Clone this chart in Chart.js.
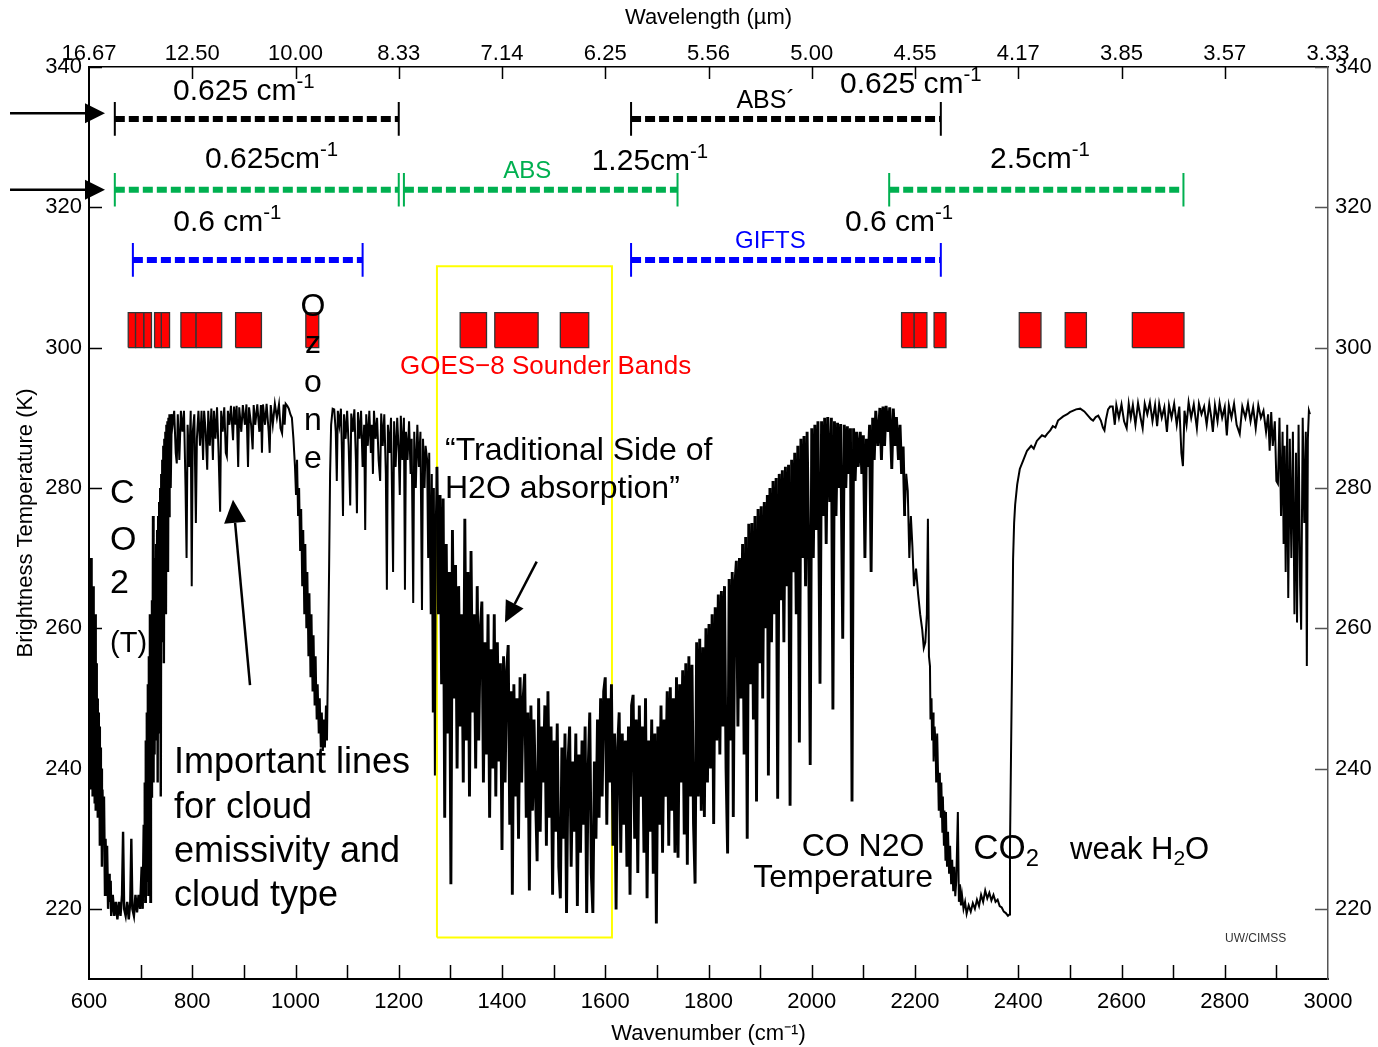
<!DOCTYPE html>
<html>
<head>
<meta charset="utf-8">
<script src="https://cdn.jsdelivr.net/npm/chart.js@4.4.1/dist/chart.umd.min.js"></script>
<style>
  html, body { margin: 0; padding: 0; background: #fff; }
  #wrap { width: 1378px; height: 1047px; }
</style>
</head>
<body>
<div id="wrap"><canvas id="spectrumChart" width="1378" height="1047"></canvas></div>
<script>
// axis ticks
const wavenumberTicks = [600, 800, 1000, 1200, 1400, 1600, 1800, 2000, 2200, 2400, 2600, 2800, 3000];
const wavelengthLabels = ['16.67', '12.50', '10.00', '8.33', '7.14', '6.25', '5.56', '5.00', '4.55', '4.17', '3.85', '3.57', '3.33'];
const temperatureTicks = [220, 240, 260, 280, 300, 320, 340];

// brightness temperature spectrum, [wavenumber, K], read region by region
const co2BandLw = [[600,266],[601,240],[602,268],[603,237],[604,270],[605,242],[606,262],[607,236],[608,266],[609,238],[610,258],[611,235],[612,262],[613,234],[614,255],[615,237],[616,250],[617,233],[618,248],[619,236],[620,246],[621,229],[622,243],[623,232],[624,240],[625,226],[626,237],[628,230],[629,236],[631,222],[632,230],[634,224],[635,229],[637,220],[639,225],[640,221],[642,224],[643,219],[646,222],[649,219],[652,221],[655,218.5],[658,221],[661,219],[664,222],[666,231],[668,220],[671,219],[674,221],[677,218.5],[680,221],[682,230],[684,220],[687,219],[690,222],[693,219.5],[696,222],[699,220],[702,226],[704,220],[706,232],[707,222],[708,238],[709,221],[710,244],[711,224],[712,248],[713,226],[714,252],[715,222],[716,256],[717,228],[718,262],[719,221],[720,260],[721,236],[722,264],[723,240],[724,276],[725,238],[726,268],[727,242],[728,270],[729,246],[730,272],[731,244],[732,274],[733,238],[734,276],[735,250],[736,278],[737,245],[738,280],[739,236],[740,282],[741,258],[742,284],[743,262],[744,286],[745,255],[746,287],[747,266],[748,288],[749,262],[750,289],[751,272],[752,289.5],[753,268],[754,290],[755,276],[756,290.5],[758,280],[760,290.5]];
const windowLw = [[762,289],[765,291],[768,285],[770,283.5],[772,290.5],[775,284],[778,291],[781,288],[784,291],[787,280],[789,270],[791,289],[794,283],[797,291],[799,266],[801,288],[804,290.5],[807,275],[809,287],[812,291],[815,286],[818,291],[821,284],[823,291],[826,288],[829,282.6],[831,291],[834,286],[837,291.3],[840,284],[842,291],[845,287],[848,291.5],[851,285],[854,276.6],[856,291],[859,288],[862,291.5],[865,285],[867,284.5],[869,291],[872,289],[875,291.7],[879,286.8],[881,291.6],[884,289],[886,291.7],[889,283],[891,291.5],[895,288],[898,291.8],[902,289],[905,291.9],[908,283],[910,291.5],[914,289],[917,285.5],[919,291.8],[922,289],[926,291.9],[930,288],[933,291.8],[935,285],[937,291.9],[941,289],[944,292],[948,288],[950,285],[952,291.8],[956,289],[960,292],[964,290],[968,291.9],[971,288.5],[974,287.8],[977,291.9],[979,289],[981,292],[984,291.7],[987,291.3],[990,290.5]];
const ozoneBand = [[993,290],[996,287],[999,283],[1001,279],[1003,284],[1005,276],[1007,280],[1009,271],[1011,277],[1013,266],[1015,274],[1017,262],[1019,272],[1021,260],[1023,268],[1025,256],[1027,265],[1029,253],[1031,262],[1033,251],[1035,259],[1037,249],[1039,256],[1041,247],[1043,252],[1045,245],[1047,250],[1049,243],[1051,248],[1053,242.5],[1055,247],[1057,243],[1059,249],[1061,244],[1063,256],[1065,268],[1067,282],[1069,289],[1072,291.3]];
const windowMid = [[1075,291.2],[1078,288],[1080,281],[1082,291],[1085,289],[1088,291.3],[1090,285],[1092,276],[1094,290.5],[1097,287],[1100,291],[1103,286],[1106,277.5],[1108,290.6],[1111,288],[1114,291.2],[1117,284],[1119,276.4],[1121,290.8],[1124,287],[1127,291],[1130,283],[1133,289],[1135,274],[1137,290.5],[1140,286],[1143,291],[1146,285],[1148,289],[1150,282],[1152,291],[1155,287],[1158,290],[1161,284],[1164,281],[1166,290.6],[1169,286],[1172,290.5],[1175,282],[1177,265.5],[1179,289],[1182,285],[1185,290],[1189,268],[1191,289.5],[1194,283],[1197,290],[1200,285],[1202,279],[1204,290.3],[1207,284],[1210,290],[1212,265.5],[1214,288],[1217,284],[1220,289.5],[1223,282],[1225,287],[1228,263.6],[1230,288],[1233,280],[1236,289],[1239,283],[1242,288],[1245,262.6],[1247,287],[1250,280],[1252,286],[1255,284],[1257,270],[1259,285],[1262,262],[1264,282],[1266,248],[1268,280],[1270,239],[1272,276]];
const waterBand = [[1274,283],[1277,262],[1280,279],[1283,252],[1286,278.5],[1289,233],[1292,272],[1295,245],[1298,268],[1301,223.5],[1304,274],[1307,250],[1310,269],[1313,240],[1316,266],[1319,246],[1322,262],[1325,238],[1328,275.6],[1331,244],[1334,268],[1337,236],[1340,271],[1343,248],[1346,262],[1349,240],[1352,266],[1355,244],[1358,260],[1361,263.8],[1364,238],[1367,258],[1370,242],[1373,262],[1376,233],[1379,257],[1382,240],[1385,262],[1388,236],[1391,258],[1394,241],[1397,255],[1400,228.4],[1403,256],[1406,238],[1409,254],[1412,257.6],[1415,232],[1418,251],[1420,222],[1423,252],[1426,236],[1429,250],[1432,230],[1435,253],[1438,238],[1441,250],[1444,253.5],[1447,233],[1450,248],[1453,222.6],[1456,249],[1459,234],[1462,247],[1465,236],[1468,226.8],[1471,250],[1474,231],[1477,246],[1480,238],[1483,249],[1486,229],[1489,251],[1492,233],[1495,246],[1498,222],[1501,244],[1504,231],[1507,246.4],[1510,226],[1513,221.5],[1516,243],[1519,230],[1522,245],[1525,219.4],[1528,241],[1531,246],[1534,226],[1537,241],[1540,231],[1543,245],[1546,220.4],[1549,242],[1552,228],[1555,244],[1558,232],[1561,246],[1564,219.4],[1567,240],[1570,248],[1573,225],[1576,219.4],[1579,241],[1582,230],[1585,247],[1588,233],[1591,250],[1594,236],[1597,251],[1600,253],[1603,232],[1606,250],[1609,238],[1612,252],[1615,229],[1618,245],[1621,219.9],[1624,243],[1627,248],[1630,228],[1633,245],[1636,232],[1639,244],[1642,226],[1645,246],[1648,222],[1651,249]];
const waterWing = [[1654,250.5],[1657,230],[1660,247],[1663,225.1],[1666,249],[1669,236],[1672,246],[1675,228],[1678,250],[1681,221.5],[1684,244],[1687,231],[1690,247],[1693,225],[1696,245],[1699,217.9],[1702,246],[1705,232],[1708,249],[1711,228],[1714,247],[1717,236],[1720,251],[1723,229],[1726,251.6],[1729,234],[1732,250],[1735,228],[1738,253],[1741,227.3],[1744,252],[1747,238],[1750,254],[1753,230.6],[1756,255],[1759,226.3],[1762,256],[1765,236],[1768,254.8],[1771,232.1],[1774,223.6],[1777,258],[1780,236],[1783,258.5],[1786,234],[1789,257.3],[1792,233.1],[1795,260],[1798,238],[1801,260.6],[1804,240],[1807,262],[1810,232.1],[1813,263],[1816,244],[1819,264.8],[1822,242],[1825,265.3]];
const shortwaveRise = [[1828,246],[1831,266],[1834,240],[1837,227.9],[1840,267],[1843,244],[1846,268],[1848,233.1],[1851,266],[1854,269.6],[1857,246],[1860,270],[1863,250],[1866,272],[1869,242],[1872,273],[1875,230],[1878,274.9],[1881,252],[1884,275],[1887,247],[1890,276],[1893,235.3],[1896,277],[1899,255],[1902,277.4],[1905,250],[1908,278],[1911,260],[1914,279],[1916,239],[1919,280],[1922,258],[1925,281],[1928,262],[1931,281.4],[1934,235.7],[1937,282],[1940,264],[1943,282.5],[1946,258],[1949,283],[1952,266],[1955,283.3],[1958,234.7],[1961,284],[1964,268],[1967,285],[1970,262],[1973,286],[1976,243.7],[1979,287],[1982,270],[1985,287.4],[1988,266],[1991,288],[1994,272],[1997,240.5],[2000,288.5],[2003,270],[2006,289],[2009,274],[2012,289.5],[2016,252.1],[2019,289.5],[2022,276],[2025,290],[2028,272],[2031,290.1],[2035,278],[2038,290],[2041,248.4],[2044,289.5],[2047,276],[2050,289.3],[2053,280],[2056,289.1],[2060,258.5],[2063,289],[2066,280],[2069,288.8],[2072,282],[2075,288.5],[2078,235.3],[2081,288.5],[2084,281],[2087,288],[2090,283],[2094,288],[2097,282],[2100,287.5],[2103,270],[2106,287],[2109,283],[2112,289],[2115,268],[2118,290],[2121,284],[2124,291],[2128,286],[2132,291.4],[2135,284],[2138,291.6],[2141,286],[2144,291.7],[2148,288],[2151,291.5],[2155,282.7],[2158,291.3],[2161,286],[2164,290.1],[2168,284],[2171,289],[2174,282],[2177,285.9],[2180,276]];
const co2BandSw = [[2183,282],[2186,279.6],[2189,270],[2192,276],[2195,271.6],[2198,266],[2202,268.5],[2206,264.9],[2210,262],[2214,259.8],[2217,257.2],[2220,258],[2223,262],[2225,275.6],[2227,256],[2229,254.6],[2230,247],[2232,250],[2233,244],[2235,248],[2236,241],[2238,246],[2240,243],[2241,238],[2243,245],[2245,238],[2246,234],[2248,239.4],[2250,233],[2251,238],[2253,231],[2254,236],[2256,229],[2257,234],[2259,227],[2260,233.8],[2262,226],[2264,231],[2266,225],[2268,229],[2270,223.5],[2272,227],[2274,222.5],[2276,226],[2278,221.8],[2280,224],[2283,233.8],[2285,221],[2287,223.5],[2289,220.5],[2291,222],[2294,220],[2297,221],[2300,219.3],[2304,220.5],[2308,219.6],[2312,220.8],[2316,220],[2320,221.3],[2324,220.4],[2328,222],[2332,221],[2336,222.6],[2340,221.5],[2344,222.3],[2348,221.2],[2352,222],[2356,221],[2360,221.3],[2364,220.4],[2368,220.2],[2372,219.6],[2376,219.4],[2380,219],[2383,219.2],[2384,229],[2386,242],[2388,254.6],[2390,269.9],[2392,275],[2394,277.6]];
const windowSw = [[2398,280.5],[2403,282.7],[2410,284],[2417,285.3],[2425,286],[2430,285.6],[2436,286.7],[2446,287.5],[2452,287.3],[2456,287.7],[2462,288.2],[2467,288.8],[2472,288.6],[2477,289.6],[2487,290.2],[2495,290.5],[2500,290.8],[2512,291.2],[2520,291.3],[2528,290.9],[2535,290.3],[2541,289.8],[2545,289.6],[2550,290.1],[2555,290.3],[2560,289.6],[2564,288.6],[2567,288.2],[2570,289.8],[2574,291.2],[2578,291.6],[2583,291.6],[2587,289],[2590,291.8],[2595,290],[2600,291.9],[2605,289.5],[2610,288.5],[2614,292],[2618,290],[2622,291.8],[2627,289],[2632,292.1],[2637,290],[2641,288.5],[2645,292],[2650,290.5],[2655,292.2],[2660,289.5],[2665,291.8],[2669,288.8],[2673,292],[2678,290],[2683,291.5],[2688,288],[2692,291.8],[2697,290],[2702,292],[2707,289],[2712,291.6],[2716,285],[2719,283.1],[2722,291],[2726,289],[2730,292.2],[2735,290],[2740,291.9],[2746,288.5],[2750,292],[2755,290.5],[2760,291.6],[2765,289],[2770,292],[2774,290],[2777,288],[2781,291.8],[2786,289.5],[2790,292.1],[2795,290],[2800,291.5],[2804,287.5],[2808,291.8],[2813,290],[2818,292],[2823,289],[2829,287.7],[2834,291.6],[2840,290],[2845,292],[2850,289.5],[2855,291.5],[2860,288.5],[2865,291.8],[2870,290],[2875,291],[2880,288],[2884,290.5],[2887,285.3],[2890,290.8],[2893,286],[2897,289.5],[2900,281],[2903,280.6],[2906,290],[2909,276],[2912,288],[2914,272],[2916,286],[2918,268],[2921,289],[2923,264.3],[2926,287],[2929,270],[2932,288],[2935,262],[2938,285],[2940,260.8],[2943,289],[2946,266],[2948,259.8],[2951,290],[2954,275],[2957,288],[2959,254.6],[2961,287],[2963,291],[2965,290.5]];

// GOES-8 sounder bands (cm-1)
const goesBandStart = [676, 690, 706, 727, 740, 778, 807, 884, 1020, 1319, 1386, 1513, 2174, 2198, 2237, 2402, 2491, 2621];
const goesBandEnd   = [690, 706, 721, 740, 756, 807, 857, 934, 1045, 1370, 1470, 1568, 2198, 2223, 2260, 2444, 2532, 2721];

// spectral coverage of the instruments (cm-1)
const absPrimeSpans = [[650, 1200], [1650, 2250]];
const absSpans = [[650, 1200], [1210, 1740], [2150, 2720]];
const giftsSpans = [[685, 1130], [1650, 2250]];

const FONT = "'Liberation Sans', Arial, sans-serif";
Chart.defaults.font.family = FONT;
Chart.defaults.color = '#000';

const toPts = pairs => pairs.map(p => ({ x: p[0], y: p[1] }));
const spectrum = [].concat(co2BandLw, windowLw, ozoneBand, windowMid, waterBand, waterWing, shortwaveRise, co2BandSw, windowSw);

const datasets = [];
datasets.push({
    data: toPts(spectrum),
    borderColor: '#000',
    borderWidth: 2,
    pointRadius: 0,
    tension: 0,
    fill: false,
    // the dense water-vapour forest is drawn heavier so it reads as solid
    segment: {
        borderWidth: ctx => {
            const wn = ctx.p0.parsed.x;
            if (wn > 1272 && wn < 2180) return 2.9;
            if (wn < 760) return 2.4;
            return 2;
        }
    }
});

// yellow box round the water band
datasets.push({
    data: [{x: 1274, y: 215.9}, {x: 1613, y: 215.9}, {x: 1613, y: 311.6}, {x: 1274, y: 311.6}, {x: 1274, y: 215.9}],
    borderColor: '#ffff00',
    borderWidth: 2,
    pointRadius: 0,
    fill: false
});

goesBandStart.forEach((s, i) => {
    const e = goesBandEnd[i];
    datasets.push({
        data: [{x: s, y: 300}, {x: s, y: 305}, {x: e, y: 305}, {x: e, y: 300}, {x: s, y: 300}],
        borderColor: '#333',
        borderWidth: 1.3,
        pointRadius: 0,
        fill: false
    });
    datasets.push({
        data: [{x: s, y: 305}, {x: e, y: 305}],
        borderWidth: 0,
        borderColor: 'rgba(0,0,0,0)',
        backgroundColor: '#ff0000',
        pointRadius: 0,
        fill: {value: 300}
    });
});

function addSpans(spans, level, color) {
    spans.forEach(([s, e]) => {
        datasets.push({
            data: [{x: s, y: level}, {x: e, y: level}],
            borderColor: color,
            borderWidth: 6,
            borderDash: [10, 4],
            borderCapStyle: 'butt',
            pointRadius: 0,
            fill: false
        });
        datasets.push({
            data: [{x: s, y: level - 2.4}, {x: s, y: level + 2.4}, {x: s, y: null}, {x: e, y: level - 2.4}, {x: e, y: level + 2.4}],
            borderColor: color,
            borderWidth: 2,
            pointRadius: 0,
            spanGaps: false,
            fill: false
        });
    });
}
addSpans(absPrimeSpans, 332.6, '#000');
addSpans(absSpans, 322.5, '#00b050');
addSpans(giftsSpans, 312.5, '#0000ff');

// text labels: [wavenumber, K, size, colour, parts, align]
const notes = [
    [762.7, 335.3, 30, '#000', [['0.625 cm'], ['-1', 'sup']]],
    [1854, 334.2, 25, '#000', [['ABS\u00b4']]],
    [2054.7, 336.3, 30, '#000', [['0.625 cm'], ['-1', 'sup']]],
    [824.7, 325.6, 30, '#000', [['0.625cm'], ['-1', 'sup']]],
    [1402.6, 324.2, 24, '#00b050', [['ABS']]],
    [1573.7, 325.3, 30, '#000', [['1.25cm'], ['-1', 'sup']]],
    [2345.2, 325.6, 30, '#000', [['2.5cm'], ['-1', 'sup']]],
    [763.3, 316.6, 30, '#000', [['0.6 cm'], ['-1', 'sup']]],
    [1851.3, 314.2, 24, '#0000ff', [['GIFTS']]],
    [2064.4, 316.6, 30, '#000', [['0.6 cm'], ['-1', 'sup']]],
    [1033.9, 304.5, 32, '#000', [['O']], 'center'],
    [1033.9, 299.3, 32, '#000', [['z']], 'center'],
    [1033.9, 293.7, 32, '#000', [['o']], 'center'],
    [1033.9, 288.3, 32, '#000', [['n']], 'center'],
    [1033.9, 282.9, 32, '#000', [['e']], 'center'],
    [1202.4, 296.2, 26, '#ff0000', [['GOES\u22128 Sounder Bands']]],
    [640.7, 277.9, 34, '#000', [['C']]],
    [640.7, 271.2, 34, '#000', [['O']]],
    [640.7, 265.0, 34, '#000', [['2']]],
    [640.7, 256.6, 29, '#000', [['(T)']]],
    [764.6, 239.4, 36, '#000', [['Important lines']]],
    [764.6, 233.0, 36, '#000', [['for cloud']]],
    [764.6, 226.7, 36, '#000', [['emissivity and']]],
    [764.6, 220.4, 36, '#000', [['cloud type']]],
    [1289.6, 284.0, 32, '#000', [['\u201cTraditional Side of']]],
    [1289.6, 278.6, 32, '#000', [['H2O absorption\u201d']]],
    [1980.4, 227.6, 32, '#000', [['CO N2O']]],
    [1886.8, 223.1, 32, '#000', [['Temperature']]],
    [2313, 227.1, 35, '#000', [['CO'], ['2', 'sub']]],
    [2500.3, 227.1, 31, '#000', [['weak H'], ['2', 'sub'], ['O']]],
    [2800.5, 215.3, 12, '#333', [['UW/CIMSS']]]
];

// arrows: [tail wavenumber, tail K, tip wavenumber, tip K, head length, head half-width]
const arrows = [
    [447, 333.4, 631, 333.4, 20, 10],
    [447, 322.5, 631, 322.5, 20, 10],
    [911.9, 251.9, 878.9, 278.3, 23, 11],
    [1467.2, 269.5, 1405.8, 260.8, 21, 10]
];

const annotate = {
    id: 'annotate',
    afterDatasetsDraw(chart) {
        const { ctx, scales: { x, y } } = chart;
        ctx.save();
        notes.forEach(([wn, bt, size, color, parts, align]) => {
            let px = x.getPixelForValue(wn);
            const py = y.getPixelForValue(bt);
            ctx.fillStyle = color;
            ctx.textBaseline = 'alphabetic';
            ctx.textAlign = 'left';
            let total = 0;
            parts.forEach(p => {
                ctx.font = (p[1] ? size * 0.68 : size) + 'px ' + FONT;
                total += ctx.measureText(p[0]).width;
            });
            if (align === 'center') px -= total / 2;
            parts.forEach(p => {
                const fs = p[1] ? size * 0.68 : size;
                ctx.font = fs + 'px ' + FONT;
                const dy = p[1] === 'sup' ? -size * 0.4 : p[1] === 'sub' ? size * 0.2 : 0;
                ctx.fillText(p[0], px, py + dy);
                px += ctx.measureText(p[0]).width;
            });
        });
        ctx.strokeStyle = '#000';
        ctx.fillStyle = '#000';
        ctx.lineWidth = 2.5;
        arrows.forEach(([x0, y0, x1, y1, hl, hw]) => {
            const ax = x.getPixelForValue(x0), ay = y.getPixelForValue(y0);
            const bx = x.getPixelForValue(x1), by = y.getPixelForValue(y1);
            const ang = Math.atan2(by - ay, bx - ax);
            const cx = bx - hl * Math.cos(ang), cy = by - hl * Math.sin(ang);
            ctx.beginPath();
            ctx.moveTo(ax, ay);
            ctx.lineTo(cx, cy);
            ctx.stroke();
            ctx.beginPath();
            ctx.moveTo(bx, by);
            ctx.lineTo(cx + hw * Math.sin(ang), cy - hw * Math.cos(ang));
            ctx.lineTo(cx - hw * Math.sin(ang), cy + hw * Math.cos(ang));
            ctx.closePath();
            ctx.fill();
        });
        ctx.restore();
    }
};

// tick marks drawn inward from all four sides
const inwardTicks = {
    id: 'inwardTicks',
    afterDraw(chart) {
        const { ctx, chartArea: a, scales } = chart;
        ctx.save();
        ctx.lineWidth = 1.5;
        ctx.strokeStyle = '#000';
        ctx.beginPath();
        for (let v = scales.x.min + 100; v < scales.x.max; v += 100) {
            const px = Math.round(scales.x.getPixelForValue(v)) + 0.5;
            ctx.moveTo(px, a.bottom);
            ctx.lineTo(px, a.bottom - 14);
        }
        scales.x2.ticks.forEach(t => {
            if (t.value <= scales.x2.min || t.value >= scales.x2.max) return;
            const px = Math.round(scales.x2.getPixelForValue(t.value)) + 0.5;
            ctx.moveTo(px, a.top);
            ctx.lineTo(px, a.top + 12);
        });
        scales.y.ticks.forEach(t => {
            const py = Math.round(scales.y.getPixelForValue(t.value)) + 0.5;
            ctx.moveTo(a.left, py);
            ctx.lineTo(a.left + 13, py);
        });
        ctx.stroke();
        ctx.strokeStyle = '#555';
        ctx.beginPath();
        scales.y2.ticks.forEach(t => {
            const py = Math.round(scales.y2.getPixelForValue(t.value)) + 0.5;
            ctx.moveTo(a.right, py);
            ctx.lineTo(a.right - 13, py);
        });
        ctx.stroke();
        ctx.restore();
    }
};

const tickFont = { size: 22 };

new Chart(document.getElementById('spectrumChart'), {
    type: 'line',
    data: { datasets: datasets },
    plugins: [annotate, inwardTicks],
    options: {
        responsive: false,
        animation: false,
        devicePixelRatio: 1,
        layout: { padding: 0 },
        plugins: {
            legend: { display: false },
            tooltip: { enabled: false }
        },
        scales: {
            x: {
                type: 'linear',
                position: 'bottom',
                min: 600,
                max: 3000,
                afterBuildTicks: s => { s.ticks = wavenumberTicks.map(v => ({ value: v })); },
                afterFit: s => { s.height = 68; },
                grid: { display: false },
                border: { display: true, color: '#000', width: 2 },
                ticks: { font: tickFont, color: '#000', padding: 2, autoSkip: false, maxRotation: 0, callback: v => String(v) },
                title: { display: true, text: 'Wavenumber (cm\u207b\u00b9)', font: { size: 22 }, color: '#000', padding: { top: 0, bottom: 0 } }
            },
            x2: {
                type: 'linear',
                position: 'top',
                min: 600,
                max: 3000,
                afterBuildTicks: s => { s.ticks = wavenumberTicks.map(v => ({ value: v })); },
                afterFit: s => { s.height = 67; },
                grid: { display: false },
                border: { display: true, color: '#000', width: 1.5 },
                ticks: {
                    font: tickFont, color: '#000', padding: -8, autoSkip: false, maxRotation: 0,
                    callback: (v, i) => wavelengthLabels[i]
                },
                title: { display: true, text: 'Wavelength (\u00b5m)', font: { size: 22 }, color: '#000', padding: { top: 5, bottom: 0 } }
            },
            y: {
                type: 'linear',
                position: 'left',
                min: 210,
                max: 340,
                afterBuildTicks: s => { s.ticks = temperatureTicks.map(v => ({ value: v })); },
                afterFit: s => { s.width = 89; },
                grid: { display: false },
                border: { display: true, color: '#000', width: 2 },
                ticks: { font: tickFont, color: '#000', padding: -1, autoSkip: false },
                title: { display: true, text: 'Brightness Temperature (K)', font: { size: 22 }, color: '#000', padding: { top: 13, bottom: 0 } }
            },
            y2: {
                type: 'linear',
                position: 'right',
                min: 210,
                max: 340,
                afterBuildTicks: s => { s.ticks = temperatureTicks.map(v => ({ value: v })); },
                afterFit: s => { s.width = 50; },
                grid: { display: false },
                border: { display: true, color: '#555', width: 1.5 },
                ticks: { font: tickFont, color: '#000', padding: -1, autoSkip: false }
            }
        }
    }
});
</script>
</body>
</html>
